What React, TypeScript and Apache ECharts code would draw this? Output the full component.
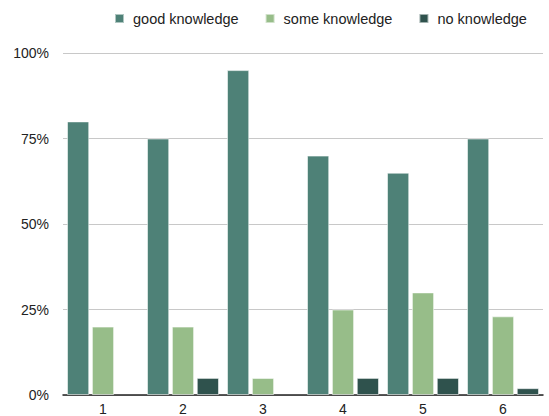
import React, { useEffect, useRef } from "react";
import * as echarts from "echarts";

const categories = ["1", "2", "3", "4", "5", "6"];
const goodKnowledge = [80, 75, 95, 70, 65, 75];
const someKnowledge = [20, 20, 5, 25, 30, 23];
const noKnowledge = [0, 5, 0, 5, 5, 2];
const seriesNames = ["good knowledge", "some knowledge", "no knowledge"];
const colors = ["#4e8177", "#97bd89", "#2f524d"];

export default function App() {
  const ref = useRef<HTMLDivElement>(null);

  useEffect(() => {
    document.body.style.margin = "0";
    if (!ref.current) return;
    const chart = echarts.init(ref.current, undefined, { renderer: "svg" });
    const font = "'Liberation Sans', Arial, sans-serif";
    const data = [goodKnowledge, someKnowledge, noKnowledge];
    chart.setOption({
      animation: false,
      textStyle: { fontFamily: font },
      legend: {
        top: 6,
        left: 109,
        itemWidth: 9,
        itemHeight: 9,
        itemGap: 26,
        icon: "rect",
        textStyle: { fontSize: 14.5, color: "#222", fontFamily: font, padding: [0, 0, 0, 4] },
        data: seriesNames,
      },
      grid: { left: 63, right: 6, top: 53, bottom: 20, containLabel: false },
      xAxis: {
        type: "category",
        data: categories,
        axisLine: { lineStyle: { color: "#222", width: 1.5 } },
        axisTick: { show: false },
        axisLabel: { color: "#222", fontSize: 14, margin: 7, fontFamily: font },
      },
      yAxis: {
        type: "value",
        min: 0,
        max: 100,
        interval: 25,
        axisLine: { show: false },
        axisTick: { show: false },
        splitLine: { lineStyle: { color: "#c8c8c8" } },
        axisLabel: {
          color: "#222",
          fontSize: 14,
          margin: 14,
          fontFamily: font,
          formatter: (v: number) => `${v}%`,
        },
      },
      series: seriesNames.map((name, i) => ({
        name,
        type: "bar",
        data: data[i].map((v) =>
          v === 0 ? { value: v, itemStyle: { borderWidth: 0 } } : v
        ),
        barGap: "12%",
        barCategoryGap: "10%",
        itemStyle: {
          color: colors[i],
          borderColor: "rgba(255,255,255,0.55)",
          borderWidth: 1,
        },
      })),
    });
    return () => chart.dispose();
  }, []);

  return <div ref={ref} style={{ width: 549, height: 416 }} />;
}
